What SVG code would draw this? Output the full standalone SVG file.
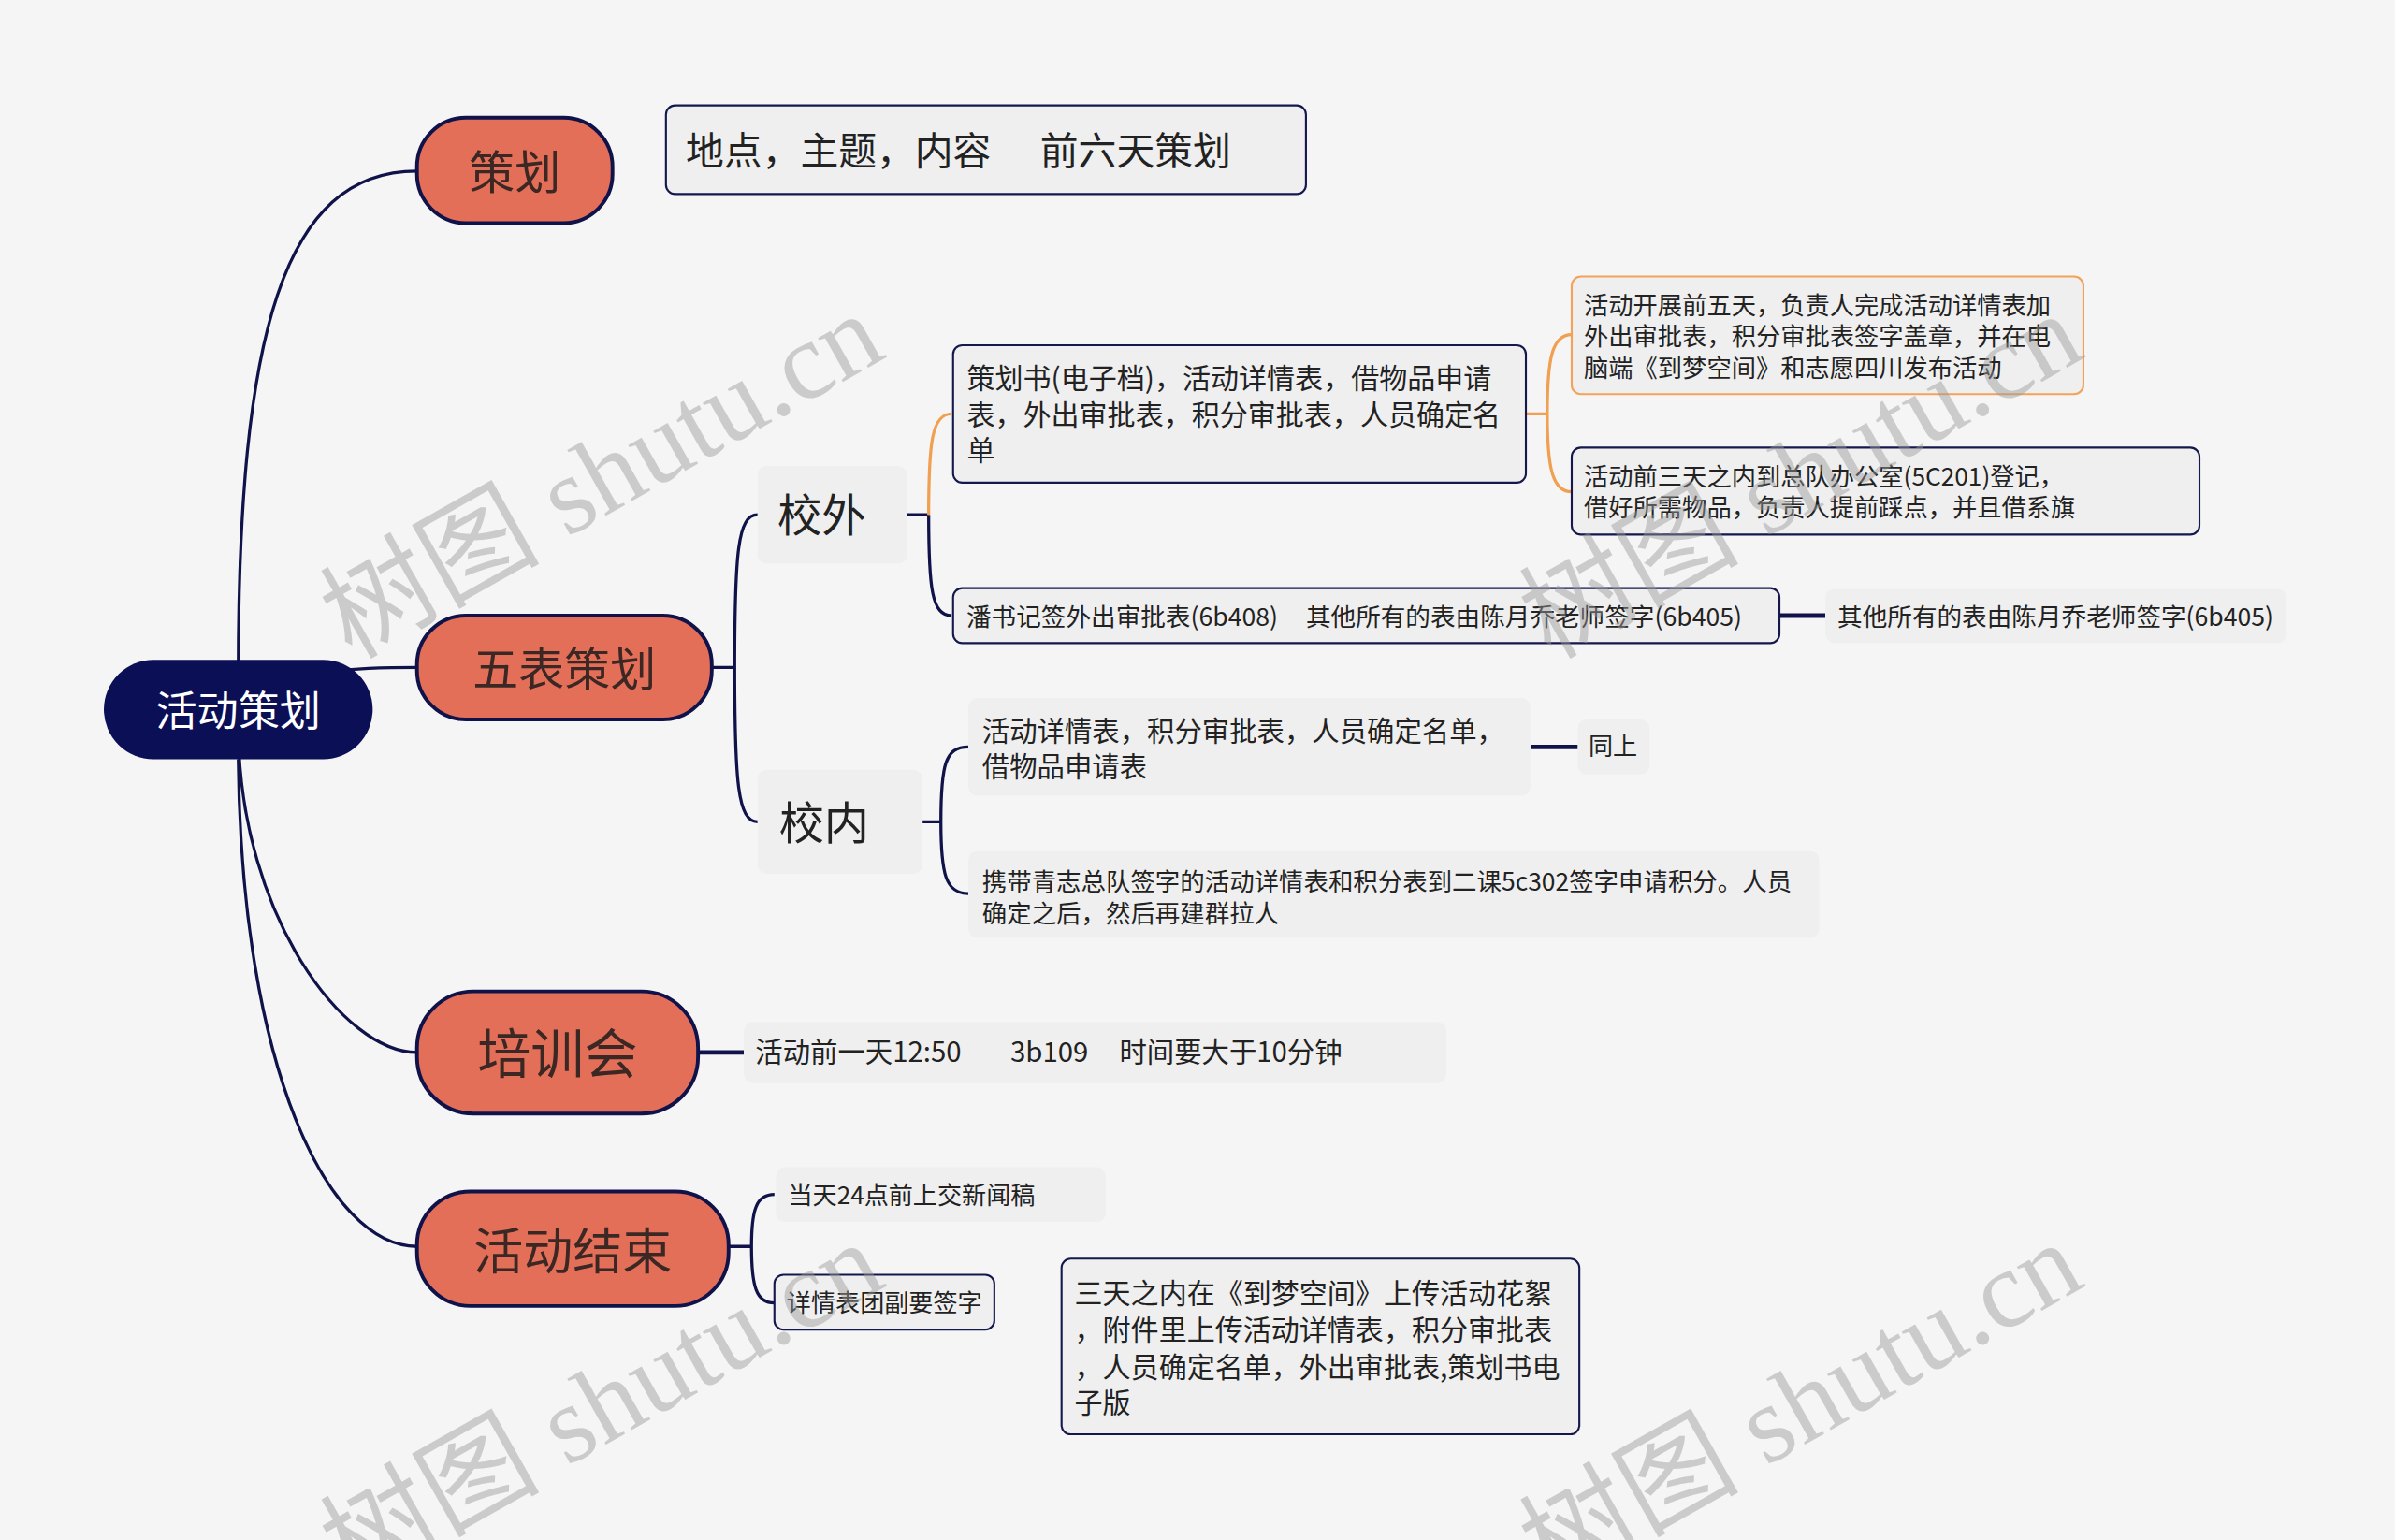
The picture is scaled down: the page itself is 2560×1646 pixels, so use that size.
<svg xmlns="http://www.w3.org/2000/svg" width="2560" height="1646" viewBox="0 0 2560 1646">
<style>
text{font-family:"Noto Sans CJK SC","Noto Sans",sans-serif;dominant-baseline:central}
.main{fill:#e46f59;stroke:#10134a;stroke-width:2.4}
.mt{fill:#3b2723;text-anchor:middle}
.box{fill:#efefef;stroke:#14184d;stroke-width:1.3}
.obox{fill:#efefef;stroke:#f2a25a;stroke-width:1.3}
.plain{fill:#efefef}
.ln{fill:none;stroke:#10134a;stroke-width:2}
.lnb{fill:none;stroke:#10134a;stroke-width:3}
.oln{fill:none;stroke:#f0a050;stroke-width:2}
.t{fill:#222}
.wm{font-family:"Liberation Serif","Noto Sans CJK SC",serif;dominant-baseline:auto;fill:#9a9a9a;opacity:.45;font-size:72px}
</style>
<rect x="0" y="0" width="2560" height="1646" fill="#f5f5f5"/>
<g transform="scale(1.63265)">
<g id="connectors">
<path class="ln" d="M156,440 C156,220 185,112 273,112"/>
<path class="ln" d="M156,455 C200,438 235,437 273,437"/>
<path class="ln" d="M156,480 C158,600 225,689 273,689"/>
<path class="ln" d="M156,497 C158,700 215,816 273,816"/>
<path class="ln" d="M466,437 H481 M481,437 C481,362 483,337 496,337 M481,437 C481,512 483,538 496,538"/>
<path class="ln" d="M594,337 H608 M608,337 C608,385 610,403 623,403"/>
<path class="oln" d="M608,337 C608,290 610,271 623,271"/>
<path class="oln" d="M999,271 H1013 M1013,271 C1013,235 1016,219 1029,219 M1013,271 C1013,305 1016,322 1029,322"/>
<path class="lnb" d="M1165,403 H1195"/>
<path class="ln" d="M604,538 H616 M616,538 C616,500 619,489 634,489 M616,538 C616,572 619,585 634,585"/>
<path class="lnb" d="M1002,489 H1033"/>
<path class="lnb" d="M457,689 H487"/>
<path class="ln" d="M477,816 H492 M492,816 C492,792 495,782 507,782 M492,816 C492,842 495,853 507,853"/>
</g>
<g id="root">
<rect x="68" y="432" width="176" height="65" rx="32.5" fill="#0b0f55"/>
<text x="156" y="463.5" fill="#fff" font-size="27" text-anchor="middle">活动策划</text>
</g>
<g id="n-cehua">
<rect class="main" x="273" y="77" width="128" height="69" rx="32"/>
<text class="mt" x="337" y="110.5" font-size="30">策划</text>
</g>
<g id="n-wubiao">
<rect class="main" x="273" y="403" width="193" height="68" rx="32"/>
<text class="mt" x="369.5" y="435.5" font-size="30">五表策划</text>
</g>
<g id="n-peixun">
<rect class="main" x="273" y="649" width="184" height="80" rx="37"/>
<text class="mt" x="365" y="687.5" font-size="35">培训会</text>
</g>
<g id="n-jieshu">
<rect class="main" x="273" y="780" width="204" height="75" rx="35"/>
<text class="mt" x="375" y="816.5" font-size="32.5">活动结束</text>
</g>
<g id="n-didian">
<rect class="box" x="436" y="69" width="419" height="58" rx="6"/>
<text class="t" y="96.5" font-size="25"><tspan x="449">地点，主题，内容</tspan><tspan x="681">前六天策划</tspan></text>
</g>
<g id="n-xiaowai">
<rect class="plain" x="496" y="305" width="98" height="64" rx="6"/>
<text class="t" x="509" y="335.5" font-size="29">校外</text>
</g>
<g id="n-xiaonei">
<rect class="plain" x="496" y="504" width="108" height="68" rx="6"/>
<text class="t" x="510" y="536.5" font-size="29.5">校内</text>
</g>
<g id="n-cehuashu">
<rect class="box" x="624" y="226" width="375" height="90" rx="6"/>
<text class="t" font-size="18.4"><tspan x="633" y="246.5">策划书(电子档)，活动详情表，借物品申请</tspan><tspan x="633" y="270">表，外出审批表，积分审批表，人员确定名</tspan><tspan x="633" y="293.5">单</tspan></text>
</g>
<g id="n-wutian">
<rect class="obox" x="1029" y="181" width="335" height="77" rx="6"/>
<text class="t" font-size="16.1"><tspan x="1037" y="198.8">活动开展前五天，负责人完成活动详情表加</tspan><tspan x="1037" y="219.3">外出审批表，积分审批表签字盖章，并在电</tspan><tspan x="1037" y="239.8">脑端《到梦空间》和志愿四川发布活动</tspan></text>
</g>
<g id="n-santian">
<rect class="box" x="1029" y="293" width="411" height="57" rx="6"/>
<text class="t" font-size="16.1"><tspan x="1037" y="311">活动前三天之内到总队办公室(5C201)登记，</tspan><tspan x="1037" y="331.4">借好所需物品，负责人提前踩点，并且借系旗</tspan></text>
</g>
<g id="n-panshuji">
<rect class="box" x="624" y="385" width="541" height="36" rx="6"/>
<text class="t" y="402.7" font-size="16.3"><tspan x="632.7">潘书记签外出审批表(6b408)</tspan><tspan x="855">其他所有的表由陈月乔老师签字(6b405)</tspan></text>
</g>
<g id="n-qita">
<rect class="plain" x="1195" y="385.5" width="302" height="35.5" rx="6"/>
<text class="t" x="1203" y="402.7" font-size="16.3">其他所有的表由陈月乔老师签字(6b405)</text>
</g>
<g id="n-xiangqing">
<rect class="plain" x="634" y="457" width="368" height="64" rx="6"/>
<text class="t" font-size="18"><tspan x="643" y="477.3">活动详情表，积分审批表，人员确定名单，</tspan><tspan x="643" y="500.6">借物品申请表</tspan></text>
</g>
<g id="n-tongshang">
<rect class="plain" x="1033" y="471" width="47" height="36" rx="6"/>
<text class="t" x="1040" y="487.7" font-size="16">同上</text>
</g>
<g id="n-xiedai">
<rect class="plain" x="634" y="557" width="557" height="57" rx="6"/>
<text class="t" font-size="16.2"><tspan x="643" y="575.7">携带青志总队签字的活动详情表和积分表到二课5c302签字申请积分。人员</tspan><tspan x="643" y="596.7">确定之后，然后再建群拉人</tspan></text>
</g>
<g id="n-qianyitian">
<rect class="plain" x="487" y="669" width="460" height="40" rx="6"/>
<text class="t" y="687.5" font-size="18"><tspan x="494.5">活动前一天12:50</tspan><tspan x="661.5">3b109</tspan><tspan x="732.8">时间要大于10分钟</tspan></text>
</g>
<g id="n-dangtian">
<rect class="plain" x="508" y="764" width="216" height="36" rx="6"/>
<text class="t" x="516" y="781.7" font-size="16">当天24点前上交新闻稿</text>
</g>
<g id="n-tuanfu">
<rect class="box" x="507" y="834.5" width="144" height="36" rx="6"/>
<text class="t" x="515" y="851.7" font-size="16">详情表团副要签字</text>
</g>
<g id="n-huaxu">
<rect class="box" x="695" y="824" width="339" height="115" rx="6"/>
<text class="t" font-size="18.4"><tspan x="703.5" y="845.5">三天之内在《到梦空间》上传活动花絮</tspan><tspan x="703.5" y="869.1">，附件里上传活动详情表，积分审批表</tspan><tspan x="703.5" y="893.5">，人员确定名单，外出审批表,策划书电</tspan><tspan x="703.5" y="917.1">子版</tspan></text>
</g>
<g id="watermarks">
<text class="wm" transform="translate(230,432) rotate(-29.5)">树图 shutu.cn</text>
<text class="wm" transform="translate(1015,432) rotate(-29.5)">树图 shutu.cn</text>
<text class="wm" transform="translate(230,1040) rotate(-29.5)">树图 shutu.cn</text>
<text class="wm" transform="translate(1015,1040) rotate(-29.5)">树图 shutu.cn</text>
</g>
</g>
</svg>
